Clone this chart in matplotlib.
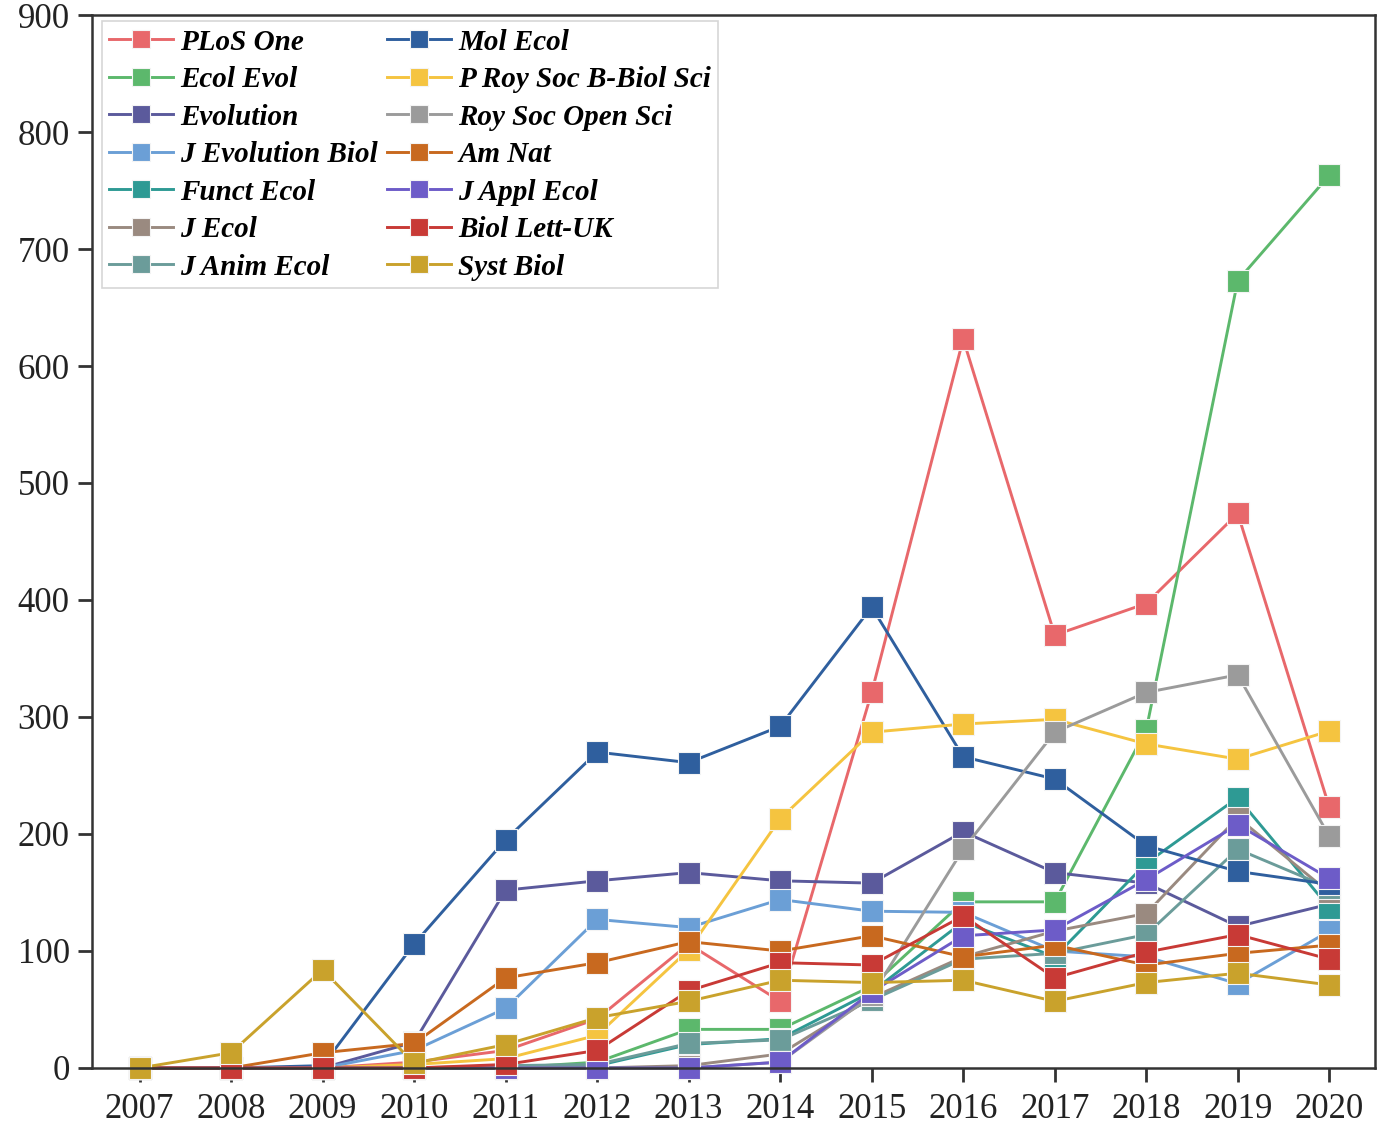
"""
Annual article counts for 14 journals, 2007-2020.
"""

import matplotlib.pyplot as plt

plt.switch_backend("Agg")

years = [2007, 2008, 2009, 2010, 2011, 2012, 2013, 2014, 2015, 2016, 2017, 2018, 2019, 2020]

plos_one = [0, 0, 0, 5, 15, 42, 106, 57, 321, 623, 370, 397, 474, 223]
ecol_evol = [0, 0, 0, 0, 0, 5, 33, 33, 70, 142, 142, 289, 673, 763]
evolution = [0, 0, 0, 22, 152, 160, 167, 160, 158, 202, 167, 158, 121, 140]
j_evolution_biol = [0, 0, 0, 15, 51, 127, 120, 144, 134, 133, 100, 95, 72, 117]
funct_ecol = [0, 0, 0, 0, 0, 2, 20, 25, 65, 125, 95, 175, 231, 137]
j_ecol = [0, 0, 0, 0, 0, 0, 2, 12, 60, 95, 117, 132, 214, 150]
j_anim_ecol = [0, 0, 0, 0, 2, 3, 21, 24, 58, 93, 98, 114, 187, 154]
mol_ecol = [0, 0, 2, 106, 195, 270, 261, 292, 394, 266, 247, 190, 168, 157]
p_roy_soc_b = [0, 0, 0, 3, 8, 28, 101, 213, 287, 294, 298, 277, 264, 288]
roy_soc_open_sci = [0, 0, 0, 0, 0, 0, 0, 5, 62, 187, 287, 321, 336, 198]
am_nat = [0, 0, 13, 21, 77, 90, 108, 100, 113, 95, 105, 88, 98, 105]
j_appl_ecol = [0, 0, 0, 0, 0, 0, 0, 5, 65, 113, 118, 161, 208, 162]
biol_lett_uk = [0, 0, 0, 0, 3, 15, 66, 90, 88, 130, 77, 99, 114, 93]
syst_biol = [0, 13, 84, 4, 20, 43, 57, 75, 73, 75, 57, 73, 81, 71]

labels = [
    "PLoS One", "Ecol Evol", "Evolution", "J Evolution Biol", "Funct Ecol",
    "J Ecol", "J Anim Ecol", "Mol Ecol", "P Roy Soc B-Biol Sci",
    "Roy Soc Open Sci", "Am Nat", "J Appl Ecol", "Biol Lett-UK", "Syst Biol",
]
series = [
    plos_one, ecol_evol, evolution, j_evolution_biol, funct_ecol,
    j_ecol, j_anim_ecol, mol_ecol, p_roy_soc_b,
    roy_soc_open_sci, am_nat, j_appl_ecol, biol_lett_uk, syst_biol,
]
colors = [
    "#e8686b", "#5cb86c", "#5b5a9c", "#6b9fd6", "#2e9a94",
    "#9a8a80", "#6b9c9a", "#2f5f9e", "#f5c440",
    "#9b9b9b", "#c8691f", "#6d5cc8", "#c83a36", "#c9a22c",
]

y_ticks = [0, 100, 200, 300, 400, 500, 600, 700, 800, 900]


def main() -> None:
    fig = plt.figure(figsize=(13.85, 11.37), dpi=100)
    ax = fig.add_axes([0.0664, 0.0607, 0.9264, 0.9261])

    for values, label, color in zip(series, labels, colors):
        ax.plot(
            years,
            values,
            color=color,
            linewidth=2.1,
            marker="s",
            markersize=15.5,
            markeredgecolor="#f4f4f4",
            markeredgewidth=0.8,
            label=label,
            clip_on=False,
        )

    ax.set_xlim(2006.48, 2020.5)
    ax.set_ylim(0, 900)
    ax.set_xticks(years)
    ax.set_yticks(y_ticks)

    serif = ["Liberation Serif", "DejaVu Serif"]
    for lbl in ax.get_xticklabels() + ax.get_yticklabels():
        lbl.set_family(serif)
        lbl.set_fontsize(25)
        lbl.set_color("#222222")

    ax.tick_params(axis="both", direction="out", length=10, width=2, color="#333333")
    ax.tick_params(axis="x", pad=8)
    ax.tick_params(axis="y", pad=6)
    for spine in ax.spines.values():
        spine.set_color("#333333")
        spine.set_linewidth(1.8)

    leg = ax.legend(
        ncol=2,
        loc="upper left",
        bbox_to_anchor=(0.0075, 0.994),
        prop={"family": serif, "style": "italic", "weight": "bold", "size": 21},
        frameon=True,
        fancybox=False,
        edgecolor="#cccccc",
        handlelength=2.2,
        handletextpad=0.25,
        columnspacing=0.3,
        labelspacing=0.36,
        borderpad=0.25,
        borderaxespad=0.0,
        markerscale=0.85,
    )
    leg.get_frame().set_linewidth(1.2)

    fig.savefig("out.png", dpi=100)
    plt.close(fig)


if __name__ == "__main__":
    main()
